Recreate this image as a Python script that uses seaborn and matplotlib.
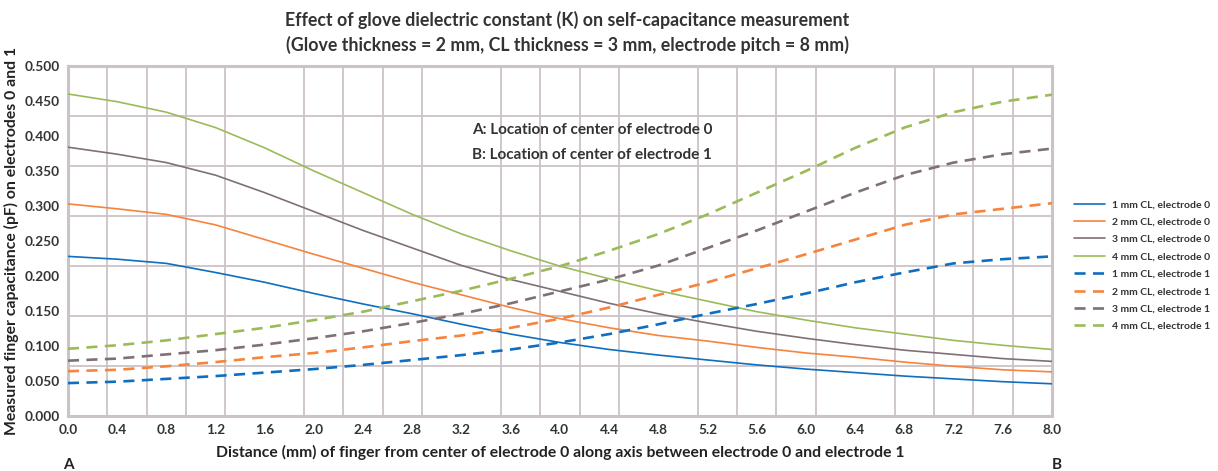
import numpy as np
import pandas as pd
import seaborn as sns
import matplotlib.pyplot as plt
from matplotlib import font_manager as fm

# Distance (mm) of finger from centre of electrode 0
distance = [0.0, 0.4, 0.8, 1.2, 1.6, 2.0, 2.4, 2.8, 3.2, 3.6, 4.0,
            4.4, 4.8, 5.2, 5.6, 6.0, 6.4, 6.8, 7.2, 7.6, 8.0]

# electrode 0 (pF)
cl1_e0 = [0.228, 0.224, 0.218, 0.205, 0.191, 0.175, 0.160, 0.146, 0.131, 0.117, 0.105,
          0.095, 0.087, 0.080, 0.073, 0.067, 0.062, 0.057, 0.053, 0.049, 0.046]
cl2_e0 = [0.303, 0.296, 0.288, 0.273, 0.252, 0.231, 0.211, 0.191, 0.173, 0.155, 0.139,
          0.126, 0.115, 0.107, 0.098, 0.090, 0.084, 0.077, 0.071, 0.066, 0.063]
cl3_e0 = [0.384, 0.374, 0.362, 0.344, 0.319, 0.292, 0.265, 0.240, 0.215, 0.195, 0.178,
          0.161, 0.146, 0.133, 0.121, 0.111, 0.102, 0.094, 0.088, 0.082, 0.078]
cl4_e0 = [0.460, 0.449, 0.434, 0.412, 0.383, 0.350, 0.319, 0.288, 0.260, 0.236, 0.214,
          0.196, 0.179, 0.164, 0.149, 0.137, 0.126, 0.117, 0.108, 0.101, 0.095]

# electrode 1
cl1_e1 = [0.047, 0.049, 0.053, 0.057, 0.062, 0.067, 0.073, 0.080, 0.087, 0.095, 0.105,
          0.117, 0.131, 0.146, 0.160, 0.175, 0.191, 0.205, 0.218, 0.224, 0.228]
cl2_e1 = [0.064, 0.066, 0.071, 0.077, 0.084, 0.090, 0.098, 0.107, 0.115, 0.126, 0.139,
          0.155, 0.173, 0.191, 0.211, 0.231, 0.252, 0.273, 0.288, 0.296, 0.304]
cl3_e1 = [0.079, 0.082, 0.088, 0.094, 0.102, 0.111, 0.121, 0.133, 0.146, 0.161, 0.178,
          0.195, 0.215, 0.240, 0.265, 0.292, 0.319, 0.344, 0.362, 0.374, 0.382]
cl4_e1 = [0.096, 0.101, 0.108, 0.117, 0.126, 0.137, 0.149, 0.164, 0.179, 0.196, 0.214,
          0.236, 0.260, 0.288, 0.319, 0.350, 0.383, 0.412, 0.434, 0.449, 0.459]

series_names = ["1 mm CL, electrode 0", "2 mm CL, electrode 0", "3 mm CL, electrode 0", "4 mm CL, electrode 0",
                "1 mm CL, electrode 1", "2 mm CL, electrode 1", "3 mm CL, electrode 1", "4 mm CL, electrode 1"]
series_vals = [cl1_e0, cl2_e0, cl3_e0, cl4_e0, cl1_e1, cl2_e1, cl3_e1, cl4_e1]

x_ticks = [round(0.4 * i, 1) for i in range(21)]
y_ticks = [round(0.05 * i, 2) for i in range(11)]

colors = ["#0f6ebf", "#f7833c", "#7f7077", "#9bbb59"]
grid_col = "#cbc3c6"

sns.set_style("white")
names = {f.name for f in fm.fontManager.ttflist}
main_font = "Lato" if "Lato" in names else "DejaVu Sans"
plt.rcParams["font.family"] = [main_font, "DejaVu Sans"]

fig = plt.figure(figsize=(12.18, 4.71), dpi=100)
ax = fig.add_axes([0.0558, 0.1168, 0.8079, 0.7431])

rows = []
for name, vals in zip(series_names, series_vals):
    for d, v in zip(distance, vals):
        rows.append({"dist": d, "cap": v, "series": name})
df = pd.DataFrame(rows)

for i, name in enumerate(series_names):
    sub = df[df["series"] == name]
    if i < 4:
        sns.lineplot(data=sub, x="dist", y="cap", ax=ax, color=colors[i % 4],
                     lw=1.2, label=name, zorder=3)
    else:
        sns.lineplot(data=sub, x="dist", y="cap", ax=ax, color=colors[i % 4],
                     lw=1.9, label=name, zorder=3)
        ax.lines[-1].set_dashes([4.2, 2.8])

ax.set_xlim(0, 8)
ax.set_ylim(0, 0.5)
ax.set_xticks(x_ticks)
ax.set_xticklabels(["%.1f" % t for t in x_ticks])
ax.set_yticks(y_ticks)
ax.set_yticklabels(["%.3f" % t for t in y_ticks])
ax.set_xticks(np.linspace(0, 8, 26), minor=True)
ax.set_yticks(np.linspace(0, 0.5, 8), minor=True)
ax.grid(False, which="major")
ax.grid(True, which="minor", color=grid_col, lw=1.3)
ax.tick_params(which="both", length=0)
ax.tick_params(axis="both", which="major", labelsize=9.8, pad=6, labelcolor="#333333")
for lab in ax.get_xticklabels() + ax.get_yticklabels():
    lab.set_fontweight("bold")
for sp in ax.spines.values():
    sp.set_color(grid_col)
    sp.set_linewidth(2.2)

ax.set_xlabel("Distance (mm) of finger from center of electrode 0 along axis between electrode 0 and electrode 1",
              fontsize=11.3, fontweight="bold", color="#222222", labelpad=6)
ax.set_ylabel("Measured finger capacitance (pF) on electrodes 0 and 1",
              fontsize=11.3, fontweight="bold", color="#222222", labelpad=4)

fig.text(0.466, 0.957, "Effect of glove dielectric constant (K) on self-capacitance measurement",
         ha="center", va="center", fontsize=12.8, fontweight="bold", color="#333333")
fig.text(0.466, 0.905, "(Glove thickness = 2 mm, CL thickness = 3 mm, electrode pitch = 8 mm)",
         ha="center", va="center", fontsize=12.8, fontweight="bold", color="#333333")

ax.text(0.411, 0.817, "A: Location of center of electrode 0", transform=ax.transAxes,
        fontsize=11, fontweight="bold", color="#333333", va="center")
ax.text(0.411, 0.746, "B: Location of center of electrode 1", transform=ax.transAxes,
        fontsize=11, fontweight="bold", color="#333333", va="center")

fig.text(68 / 1218, 1 - 465 / 471, "A", ha="center", va="center", fontsize=11, fontweight="bold", color="#222222")
fig.text(1057 / 1218, 1 - 465 / 471, "B", ha="center", va="center", fontsize=11, fontweight="bold", color="#222222")

leg = ax.legend(loc="center left", bbox_to_anchor=(1.013, 0.43), frameon=False,
                fontsize=7.5, handlelength=3.0, labelspacing=0.78, handletextpad=0.6)
for t in leg.get_texts():
    t.set_fontweight("bold")
    t.set_color("#333333")

fig.savefig("out.png", dpi=100)
